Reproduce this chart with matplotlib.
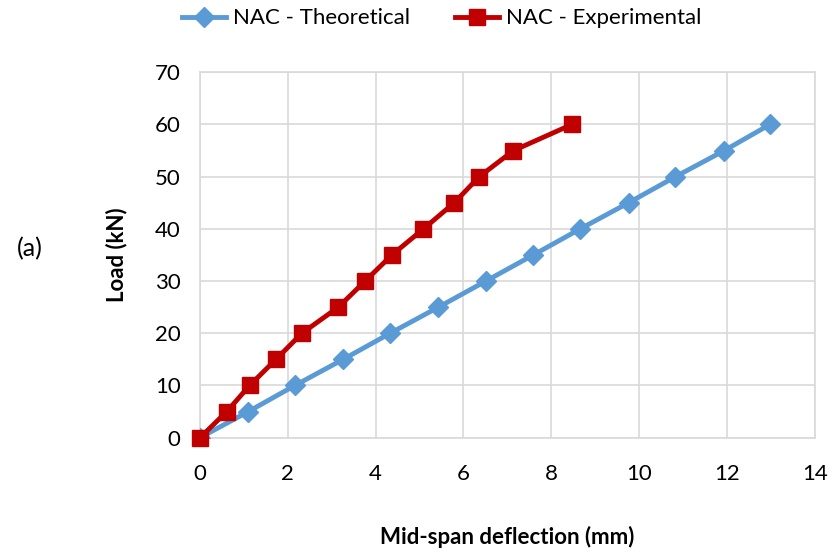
import matplotlib.pyplot as plt

# Load-deflection data
load = [0, 5, 10, 15, 20, 25, 30, 35, 40, 45, 50, 55, 60]
defl_theory = [0, 1.10, 2.16, 3.26, 4.33, 5.43, 6.51, 7.59, 8.66, 9.76, 10.83, 11.94, 12.98]
defl_exp = [0, 0.61, 1.13, 1.73, 2.32, 3.15, 3.76, 4.37, 5.09, 5.79, 6.36, 7.14, 8.47]

plt.rcParams['font.family'] = ['Lato', 'DejaVu Sans']

fig = plt.figure(figsize=(8.33, 5.57), dpi=100)
ax = fig.add_axes([0.2401, 0.2142, 0.7379, 0.656])

ax.plot(defl_theory, load, color='#5B9BD5', lw=3.5, marker='D', ms=10,
        label='NAC - Theoretical', zorder=3)
ax.plot(defl_exp, load, color='#C00000', lw=3.5, marker='s', ms=12,
        label='NAC - Experimental', zorder=4, clip_on=False)

ax.set_xlim(0, 14)
ax.set_ylim(0, 70)
ax.set_xticks(range(0, 15, 2))
ax.set_yticks(range(0, 71, 10))
ax.grid(True, color='#D9D9D9', lw=1.2)
ax.set_axisbelow(True)
for s in ax.spines.values():
    s.set_color('#D9D9D9')
    s.set_linewidth(1.2)
ax.tick_params(length=0, labelsize=16)
ax.tick_params(axis='x', pad=19)
ax.tick_params(axis='y', pad=14)

ax.set_xlabel('Mid-span deflection (mm)', fontsize=16, fontweight='bold', labelpad=30)
ax.set_ylabel('Load (kN)', fontsize=16, fontweight='bold', labelpad=20)

fig.text(0.036, 0.553, '(a)', fontsize=18, ha='center', va='center')

fig.legend(loc='center', bbox_to_anchor=(0.53, 0.967), ncol=2, frameon=False,
           fontsize=16, handlelength=2.0, columnspacing=2.0, handletextpad=0.3)

fig.savefig('out.png', dpi=100)
